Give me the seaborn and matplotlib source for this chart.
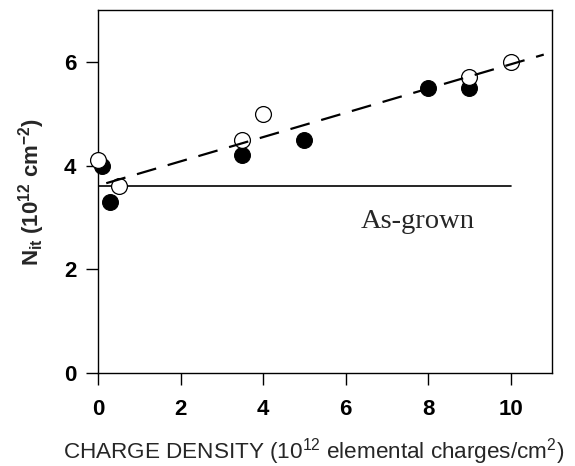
import matplotlib
matplotlib.use("Agg")
import matplotlib.pyplot as plt
import seaborn as sns
import pandas as pd

# Data
filled_x = [0.1, 0.3, 3.5, 5.0, 8.0, 9.0]
filled_y = [4.0, 3.3, 4.2, 4.5, 5.5, 5.5]
open_x = [0.0, 0.5, 3.5, 4.0, 9.0, 10.0]
open_y = [4.1, 3.6, 4.5, 5.0, 5.7, 6.0]
fit_x = [0.2, 10.8]
fit_y = [3.66, 6.14]
asgrown_x = [0.0, 10.0]
asgrown_y = [3.6, 3.6]
x_ticks = [0, 2, 4, 6, 8, 10]
y_ticks = [0, 2, 4, 6]

sns.set_style("ticks")
plt.rcParams['font.family'] = ['Liberation Sans', 'DejaVu Sans']
plt.rcParams['mathtext.fontset'] = 'custom'
plt.rcParams['mathtext.rm'] = 'Liberation Sans'
plt.rcParams['mathtext.bf'] = 'Liberation Sans:bold'
plt.rcParams['mathtext.it'] = 'Liberation Sans:italic'

fig = plt.figure(figsize=(5.75, 4.66), dpi=100)
ax = fig.add_axes([98/575, 1-373/466, (552-98)/575, (373-10)/466])

df_f = pd.DataFrame({"x": filled_x, "y": filled_y})
df_o = pd.DataFrame({"x": open_x, "y": open_y})
df_fit = pd.DataFrame({"x": fit_x, "y": fit_y})
df_ag = pd.DataFrame({"x": asgrown_x, "y": asgrown_y})

sns.lineplot(data=df_ag, x="x", y="y", ax=ax, color="black", lw=1.2, zorder=2)
sns.scatterplot(data=df_f, x="x", y="y", ax=ax, color="black", s=130,
                edgecolor="black", linewidth=0.8, zorder=3, clip_on=False)
sns.scatterplot(data=df_o, x="x", y="y", ax=ax, color="white", s=130,
                edgecolor="black", linewidth=0.9, zorder=4, clip_on=False)
sns.lineplot(data=df_fit, x="x", y="y", ax=ax, color="black", lw=1.6,
             zorder=5)
ax.lines[-1].set_dashes((9, 5.4))

ax.text(6.36, 2.8, "As-grown", fontsize=20.5, family="Liberation Serif",
        ha="left", va="baseline")

ax.set_xlim(0, 11)
ax.set_ylim(0, 7)
ax.set_xticks(x_ticks)
ax.set_yticks(y_ticks)
ax.tick_params(direction="out", length=8.5, width=1.0, labelsize=16,
               colors="black")
ax.tick_params(axis="x", pad=10)
ax.tick_params(axis="y", pad=7)
for lab in ax.get_xticklabels() + ax.get_yticklabels():
    lab.set_fontweight("bold")
for sp in ax.spines.values():
    sp.set_visible(True)
    sp.set_linewidth(1.0)
    sp.set_color("black")

ax.set_xlabel(r"CHARGE DENSITY (10$^{12}$ elemental charges/cm$^{2}$)",
              fontsize=16.2, labelpad=12)
ax.xaxis.label.set_x(0.474)
ax.set_ylabel(r"$\mathbf{N_{it}}$ (10$^{\mathbf{12}}$ cm$^{\mathbf{-2}}$)",
              fontsize=16, fontweight="bold", labelpad=12)

fig.savefig("out.png", dpi=100)
